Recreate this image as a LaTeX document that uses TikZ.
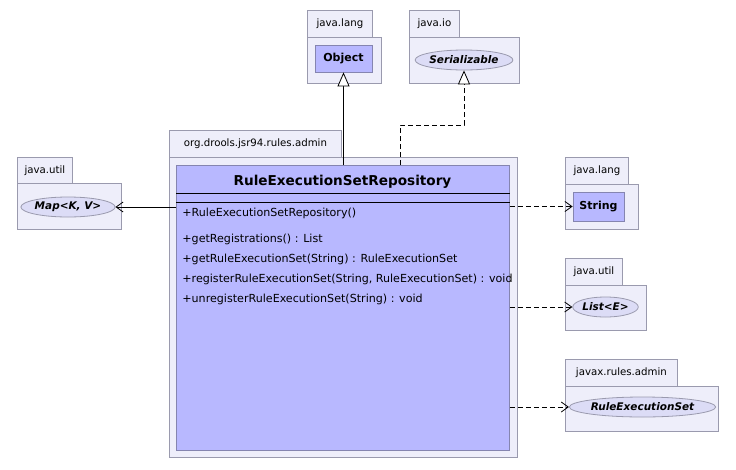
\documentclass[tikz,border=0pt]{standalone}
\usepackage{fontspec}
\setmainfont{DejaVu Sans}
\usetikzlibrary{arrows.meta, shapes.geometric}
\definecolor{pkgfill}{HTML}{EEEEFA}
\definecolor{pkgline}{HTML}{9A9AAE}
\definecolor{clsfill}{HTML}{B8B8FF}
\definecolor{clsline}{HTML}{8585B0}
\definecolor{ifcfill}{HTML}{DCDCF6}

\begin{document}
\begin{tikzpicture}[x=1pt, y=-1pt, line width=0.8pt,
        pkgtab/.style={draw=pkgline, fill=pkgfill, anchor=north west, inner sep=0pt, minimum height=27, font=\fontsize{10.2}{12}\selectfont},
        pkgbody/.style={draw=pkgline, fill=pkgfill, anchor=north west, inner sep=0pt},
        clsbox/.style={draw=clsline, fill=clsfill, anchor=north west, inner sep=0pt},
        ifc/.style={ellipse, draw=pkgline, fill=ifcfill, inner sep=0pt, minimum height=20, font=\fontsize{10.5}{12}\bfseries\itshape\selectfont},
        opname/.style={anchor=west, inner sep=0pt, font=\fontsize{11.1}{13}\selectfont},
        uses/.style={dash pattern=on 5pt off 3pt, -{Straight Barb[length=7pt, width=10pt]}},
        assoc/.style={-{Straight Barb[length=7pt, width=10pt]}},
        inherit/.style={-{Triangle[open, length=14pt, width=12pt, fill=white]}}]
        \useasboundingbox (0,0) rectangle (736,469);

        % java.lang : Object
        \node[pkgtab, minimum width=65] (langtab) at (307,10) {java.lang};
        \node[pkgbody, minimum width=74, minimum height=46] (langpkg) at (307,37) {};
        \node[clsbox, minimum width=57, minimum height=27, anchor=center, font=\fontsize{11}{13}\bfseries\selectfont] (obj) at (343.5,58.5) {Object};

        % java.io : Serializable
        \node[pkgtab, minimum width=50] (iotab) at (409,10) {java.io};
        \node[pkgbody, minimum width=110, minimum height=46] (iopkg) at (409,37) {};
        \node[ifc, minimum width=95] (ser) at (464,60) {Serializable};

        % java.util : Map
        \node[pkgtab, minimum width=55] (utiltab) at (17,157) {java.util};
        \node[pkgbody, minimum width=104, minimum height=46] (utilpkg) at (17,183) {};
        \node[ifc, minimum width=90] (map) at (68,207) {Map<K, V>};

        % java.lang : String
        \node[pkgtab, minimum width=63] (strtab) at (565,157) {java.lang};
        \node[pkgbody, minimum width=73, minimum height=45] (strpkg) at (565,184) {};
        \node[clsbox, minimum width=51, minimum height=29, anchor=center, font=\fontsize{11}{13}\bfseries\selectfont] (str) at (598.5,206.5) {String};

        % java.util : List
        \node[pkgtab, minimum width=57] (listtab) at (565,258) {java.util};
        \node[pkgbody, minimum width=81, minimum height=45] (listpkg) at (565,285) {};
        \node[ifc, minimum width=65] (list) at (605.5,307) {List<E>};

        % javax.rules.admin : RuleExecutionSet
        \node[pkgtab, minimum width=112] (rulestab) at (565,359) {javax.rules.admin};
        \node[pkgbody, minimum width=153, minimum height=45] (rulespkg) at (565,386) {};
        \node[ifc, minimum width=139] (res) at (642.5,407) {RuleExecutionSet};

        % org.drools.jsr94.rules.admin : RuleExecutionSetRepository
        \node[pkgtab, minimum width=172] (admintab) at (169,130) {org.drools.jsr94.rules.admin};
        \node[pkgbody, minimum width=348, minimum height=300] (adminpkg) at (169,157) {};
        \node[clsbox, minimum width=333, minimum height=285] (cls) at (176,165) {};
        \node[font=\fontsize{13.6}{16}\bfseries\selectfont] (clsname) at (342.5,182) {RuleExecutionSetRepository};
        \draw ([yshift=-28pt]cls.north west) -- ([yshift=-28pt]cls.north east);
        \draw ([yshift=-37pt]cls.north west) -- ([yshift=-37pt]cls.north east);
        \node[opname] (m1) at (182,213) {+RuleExecutionSetRepository()};
        \node[opname] (m2) at (182,239) {+getRegistrations() : List};
        \node[opname] (m3) at (182,259) {+getRuleExecutionSet(String) : RuleExecutionSet};
        \node[opname] (m4) at (182,279) {+registerRuleExecutionSet(String, RuleExecutionSet) : void};
        \node[opname] (m5) at (182,299) {+unregisterRuleExecutionSet(String) : void};

        % connectors
        \coordinate (bend) at (400,125);
        \draw[inherit] (obj.south |- cls.north) -- (obj.south);
        \draw[dash pattern=on 5pt off 3pt, inherit] (bend |- cls.north) -- (bend) -| (ser.south);
        \draw[assoc] (cls.west |- map) -- (map.east);
        \draw[uses] (cls.east |- str) -- (str.west);
        \draw[uses] (cls.east |- list) -- (list.west);
        \draw[uses] (cls.east |- res) -- (res.west);
    \end{tikzpicture}
\end{document}
